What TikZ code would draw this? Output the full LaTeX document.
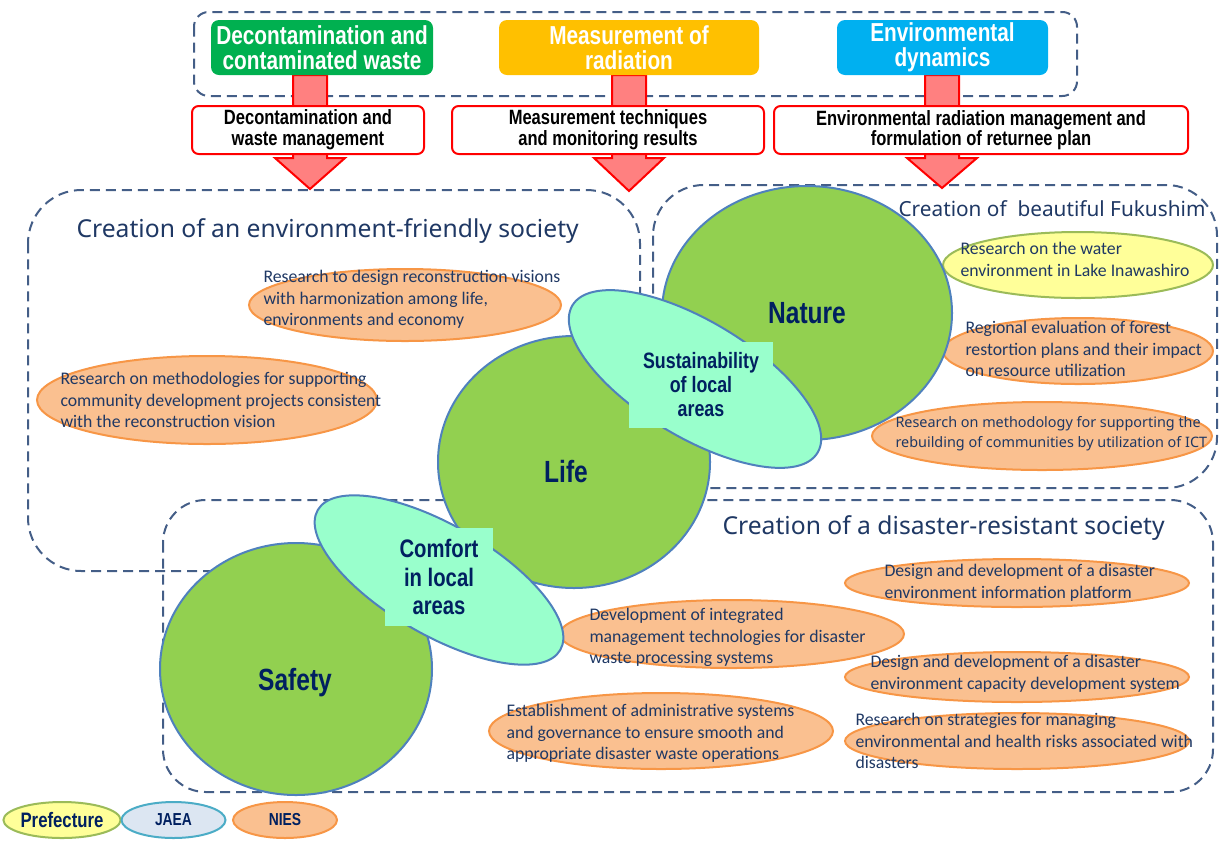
\documentclass[tikz,border=0pt]{standalone}
\usepackage{fontspec}
\setmainfont{Carlito}
\newfontfamily\gothic[FakeStretch=0.8]{Liberation Sans}
\newfontfamily\meiryo{Noto Sans}
\usetikzlibrary{shapes.geometric}

\definecolor{navy}{RGB}{0,32,96}
\definecolor{titleblue}{RGB}{31,56,100}
\definecolor{zoneblue}{RGB}{68,94,135}
\definecolor{leafgreen}{RGB}{146,208,80}
\definecolor{rimblue}{RGB}{79,129,189}
\definecolor{mint}{RGB}{153,255,204}
\definecolor{peach}{RGB}{250,192,144}
\definecolor{peachrim}{RGB}{247,150,70}
\definecolor{lemon}{RGB}{255,255,153}
\definecolor{lemonrim}{RGB}{155,187,89}
\definecolor{sky}{RGB}{220,230,242}
\definecolor{skyrim}{RGB}{75,172,198}
\definecolor{headgreen}{RGB}{0,176,80}
\definecolor{headgold}{RGB}{255,192,0}
\definecolor{headblue}{RGB}{0,176,240}
\definecolor{arrowpink}{RGB}{255,128,128}

\tikzset{every picture/.style={line width=0.75pt},
  zone/.style={draw=zoneblue,line width=1.5pt,dash pattern=on 7.5pt off 4.5pt},
  headbox/.style={rounded corners=6pt,text=white,align=center,inner sep=0pt,minimum height=41.25pt,font=\gothic\bfseries\fontsize{19.5}{18.75}\selectfont},
  taskbox/.style={draw=red,fill=white,line width=1.5pt,rounded corners=5pt,align=center,inner sep=0pt,minimum height=36pt,font=\gothic\bfseries\fontsize{15.5}{15.5}\selectfont},
  blockarrow/.style={draw=red,fill=arrowpink,line width=1.5pt},
  theme/.style={draw=rimblue,fill=leafgreen,line width=1.5pt},
  bridge/.style={draw=rimblue,fill=mint,line width=1.5pt},
  nies/.style={draw=peachrim,fill=peach,line width=1.5pt},
  pref/.style={draw=lemonrim,fill=lemon,line width=1.5pt},
  jaea/.style={draw=skyrim,fill=sky,line width=1.5pt},
  topic/.style={anchor=north west,inner sep=0.75pt,align=left,text=titleblue,font=\fontsize{13.3}{16}\selectfont},
  zonetitle/.style={anchor=west,inner sep=0.75pt,text=titleblue,font=\meiryo\fontsize{18.5}{22}\selectfont},
  themelabel/.style={text=navy,inner sep=0.75pt,font=\gothic\bfseries\fontsize{23}{26}\selectfont},
  bridgelabel/.style={fill=mint,align=center,text=navy,inner sep=0pt},
  legend/.style={ellipse,text=navy,inner sep=0pt,minimum height=27pt,font=\gothic\bfseries\fontsize{13}{15}\selectfont}
}

\begin{document}
\begin{tikzpicture}[x=0.75pt,y=0.75pt,yscale=-1,xscale=1]
\useasboundingbox (0,0) rectangle (1220,840);

%Rounded Rect: research areas
\draw[zone,rounded corners=11pt] (194,12) rectangle (1077,96);
%Rounded Rect: environment-friendly society
\draw[zone,rounded corners=40pt] (28,190) rectangle (640,571);
%Rounded Rect: beautiful Fukushima
\draw[zone,rounded corners=38pt] (653,185) rectangle (1217,488);
%Rounded Rect: disaster-resistant society
\draw[zone,rounded corners=32pt] (163,500) rectangle (1213,792);

%Shape: Down Arrow
\draw[blockarrow] (293,75) -- (327,75) -- (327,158) -- (345,158) -- (310,189) -- (275,158) -- (293,158) -- cycle;
%Shape: Down Arrow
\draw[blockarrow] (612,75) -- (646,75) -- (646,158) -- (664,158) -- (629,191) -- (594,158) -- (612,158) -- cycle;
%Shape: Down Arrow
\draw[blockarrow] (925,75) -- (959,75) -- (959,158) -- (977,158) -- (942,188) -- (907,158) -- (925,158) -- cycle;

% Header boxes
\node[headbox,fill=headgreen,minimum width=166.5pt] (decon) at (322,47.5) {Decontamination and\\contaminated waste};
\node[headbox,fill=headgold,minimum width=195pt] (measure) at (629,47.5) {Measurement of\\radiation};
\node[headbox,fill=headblue,minimum width=158.25pt] (dynamics) at (942.5,47.5) {Environmental\\dynamics};

% Task boxes
\node[taskbox,minimum width=174pt] (waste) at (308,130) {Decontamination and\\waste management};
\node[taskbox,minimum width=234pt] (monitor) at (608,130) {Measurement techniques\\and monitoring results};
\node[taskbox,minimum width=310.5pt] (returnee) at (981,130) {Environmental radiation management and\\formulation of returnee plan};

% Zone titles
\draw (75,231) node [zonetitle] (ttlfriendly) {Creation of an environment-friendly society};
\draw (897,209) node [zonetitle,font=\meiryo\fontsize{15.6}{18}\selectfont] (ttlfukushima) {Creation of\ \ beautiful Fukushim};
\draw (721,528) node [zonetitle] (ttlresistant) {Creation of a disaster-resistant society};

%Shape: Ellipse
\draw[nies] (405,305) ellipse [x radius=156, y radius=36];
\draw[nies] (207,400) ellipse [x radius=170, y radius=44];
\draw[pref] (1078,265) ellipse [x radius=135, y radius=33];
\draw[nies] (1078,351) ellipse [x radius=135, y radius=33];
\draw[nies] (1042,436) ellipse [x radius=170, y radius=34];
\draw[nies] (1017,583) ellipse [x radius=172, y radius=24];
\draw[nies] (732,634) ellipse [x radius=172, y radius=34];
\draw[nies] (1017,677) ellipse [x radius=172, y radius=25];
\draw[nies] (661,731) ellipse [x radius=172, y radius=38];
\draw[nies] (1017,741) ellipse [x radius=172, y radius=28];

% Text Node
\draw (262,269) node [topic] (vision) {Research to design reconstruction visions\\with harmonization among life,\\environments and economy};
% Text Node
\draw (59,371) node [topic] (community) {Research on methodologies for supporting\\community development projects consistent\\with the reconstruction vision};
% Text Node
\draw (959,241) node [topic] (lake) {Research on the water\\environment in Lake Inawashiro};
% Text Node
\draw (964,320) node [topic] (forest) {Regional evaluation of forest\\restortion plans and their impact\\on resource utilization};
% Text Node
\draw (894,415) node [topic,font=\meiryo\fontsize{10.8}{15}\selectfont] (ict) {Research on methodology for supporting the\\rebuilding of communities by utilization of ICT};
% Text Node
\draw (883,563) node [topic] (platform) {Design and development of a disaster\\environment information platform};
% Text Node
\draw (588,607) node [topic] (integrated) {Development of integrated\\management technologies for disaster\\waste processing systems};
% Text Node
\draw (869,654) node [topic] (capacity) {Design and development of a disaster\\environment capacity development system};
% Text Node
\draw (505,703) node [topic] (governance) {Establishment of administrative systems\\and governance to ensure smooth and\\appropriate disaster waste operations};
% Text Node
\draw (854,712) node [topic] (risks) {Research on strategies for managing\\environmental and health risks associated with\\disasters};

%Shape: Circle
\draw[theme] (807,313) ellipse [x radius=145, y radius=127];
\draw[theme] (574,462) ellipse [x radius=136, y radius=126];
%Shape: Ellipse
\draw[bridge,rotate around={31:(695,379)}] (695,379) ellipse [x radius=143, y radius=58];
\node[bridgelabel,minimum width=108pt,minimum height=64pt,font=\gothic\bfseries\fontsize{16.7}{18}\selectfont] (sustain) at (701,385) {Sustainability\\of local\\areas};
%Shape: Circle
\draw[theme] (296,669) ellipse [x radius=136, y radius=126];
%Shape: Ellipse
\draw[bridge,rotate around={30:(439,580)}] (439,580) ellipse [x radius=140, y radius=55];
\node[bridgelabel,minimum width=81pt,minimum height=73.5pt,font=\gothic\bfseries\fontsize{19}{21.4}\selectfont] (comfort) at (439,577) {Comfort\\in local\\areas};

% Theme labels
\node[themelabel] (nature) at (807,313) {Nature};
\node[themelabel] (life) at (566,472) {Life};
\node[themelabel] (safety) at (295,683) {Safety};

% Legend
\node[legend,pref,minimum width=81pt,font=\gothic\bfseries\fontsize{15.7}{17}\selectfont] (lgpref) at (62,820) {Prefecture};
\node[legend,jaea,minimum width=78pt] (lgjaea) at (173.5,820) {JAEA};
\node[legend,nies,minimum width=78pt] (lgnies) at (285,820) {NIES};

\end{tikzpicture}
\end{document}
